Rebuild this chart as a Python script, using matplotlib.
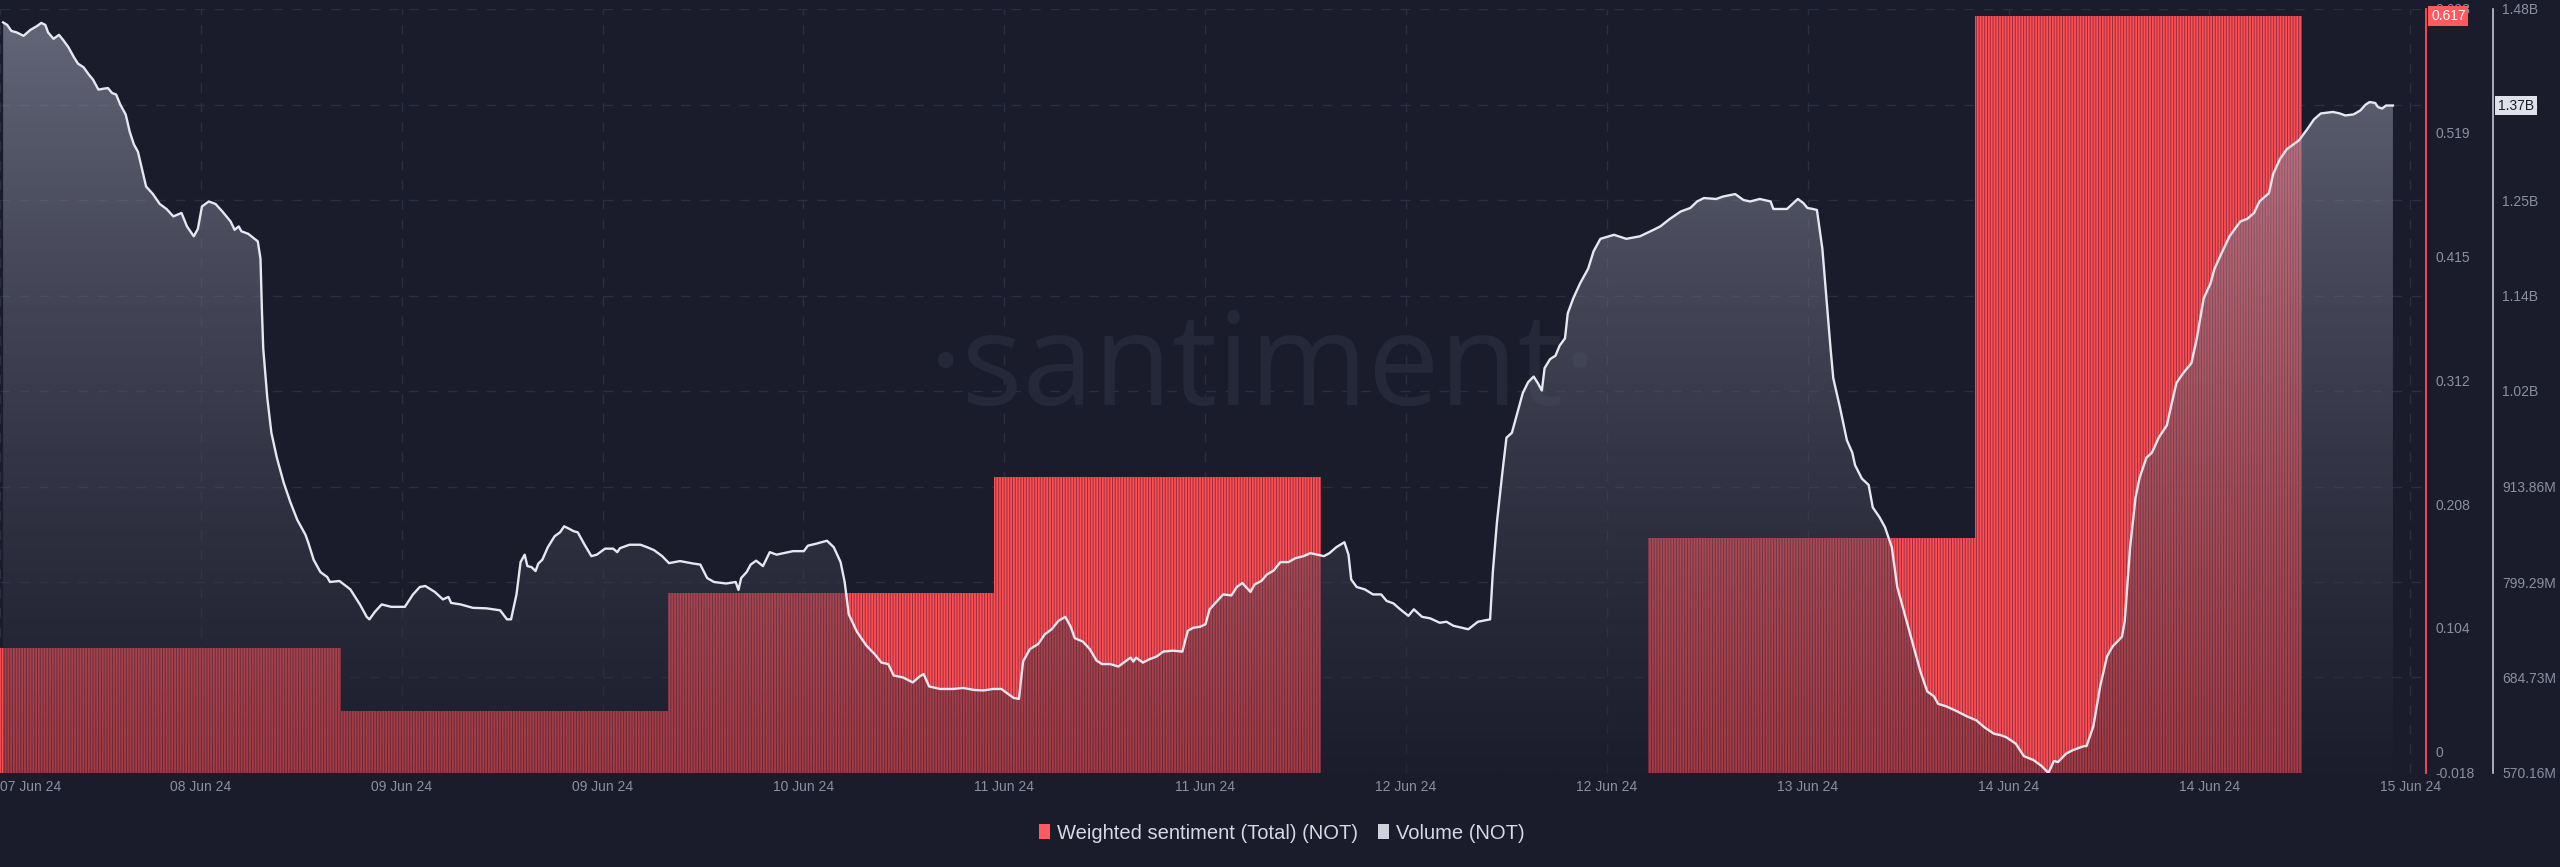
import numpy as np
import matplotlib
matplotlib.use("Agg")
import matplotlib.pyplot as plt
from matplotlib.patches import Patch

plt.rcParams["font.family"] = ["Liberation Sans", "DejaVu Sans"]
plt.rcParams["hatch.linewidth"] = 0.75

BG = "#1a1c2b"
RED = "#ff5055"
RED_DARK = "#9c2f3d"
GRID = "#2b2e40"
TICK = "#8c8fa0"
LINE = "#e6e7f0"

# hours since the start of the first daily bucket
day_start = [0, 24, 48, 72, 96, 120, 144]
sentiment = [0.087, 0.034, 0.133, 0.230, -0.018, 0.179, 0.617]

vol_hours = [
    -0.8, -0.5, -0.2, 0.2, 0.7, 1.2, 1.7, 2.0, 2.3, 2.5, 2.9, 3.3, 3.6, 4.0, 4.4, 4.7, 5.1, 5.5, 5.8, 6.2,
    6.6, 6.9, 7.2, 7.5, 7.8, 8.2, 8.5, 8.8, 9.1, 9.4, 9.7, 10.2, 10.7, 11.2, 11.7, 12.3, 12.7, 13.2, 13.5, 13.8,
    14.3, 14.8, 15.3, 15.9, 16.2, 16.5, 16.7, 17.2, 17.9, 18.1, 18.2, 18.3, 18.6, 18.9, 19.3, 19.8, 20.3, 20.8,
    21.4, 21.6, 22.0, 22.5, 23.0, 23.2, 23.9, 24.7, 25.4, 25.9, 26.1, 26.5, 27.0, 27.7, 28.7, 29.3, 29.8, 30.2,
    30.6, 30.9, 31.5, 31.9, 32.1, 32.8, 33.7, 34.7, 35.7,
    36.2, 36.5, 36.9, 37.2, 37.5, 37.7, 38.0, 38.3, 38.5, 38.8, 39.2, 39.7, 40.1, 40.4, 40.7, 41.1, 41.4, 41.9,
    42.4, 42.8, 43.4, 44.0, 44.3, 44.5, 45.2, 46.0, 46.5, 47.0, 47.6, 48.1, 48.9, 49.9, 50.4, 50.9, 51.4, 52.3,
    53.0, 53.2, 53.4, 53.8, 54.1, 54.5, 55.0, 55.5, 56.0, 56.5, 57.2, 58.0, 58.3, 58.9, 59.7, 60.2, 60.7, 61.0,
    61.3, 61.9, 62.6, 63.2, 63.7, 64.2, 64.6, 65.3, 66.0, 66.5, 66.8, 67.2, 68.0, 69.0, 69.7, 70.5,
    71.2, 71.9, 72.5, 73.0, 73.4, 73.8, 74.1, 74.6, 75.2, 75.7, 76.2, 76.7, 77.2, 77.6, 77.9, 78.5, 79.0, 79.5,
    79.9, 80.5, 81.1, 81.6, 82.0, 82.2, 82.4, 82.9, 83.4, 83.9, 84.4, 85.1, 85.8, 86.2, 86.6, 87.1, 87.5, 87.8,
    88.3, 88.8, 89.4, 89.8, 90.2, 90.8, 91.1, 91.6, 92.0, 92.5, 93.0, 93.6, 94.1, 94.7, 95.2, 96.2, 96.6, 97.1,
    97.7, 98.0, 98.2, 98.6, 99.2, 99.8, 100.4, 100.8, 101.3, 101.8, 102.4, 102.8, 103.4, 104.0, 104.7, 105.2, 105.7,
    106.8, 107.5, 108.4, 108.6, 108.9, 109.3, 109.6, 110.0, 110.4, 110.8, 111.2, 111.6, 111.9, 112.2, 112.4,
    112.8, 113.2, 113.5, 113.9, 114.1, 114.5, 115.0, 115.6, 116.0, 116.5, 117.5, 118.4, 119.4, 120.4, 120.9,
    121.6, 122.4, 123.1, 123.6, 124.1, 125.0, 125.5, 126.4, 127.0, 127.5, 128.2, 129.0, 129.2, 130.2, 130.6,
    131.0, 131.4, 131.7, 132.1, 132.4, 132.8, 133.1, 133.4, 133.6, 134.1, 134.6, 135.0, 135.2, 135.7, 136.2,
    136.5, 137.0, 137.4, 137.9, 138.3, 139.0, 139.5, 140.0, 140.5, 141.0,
    141.3, 141.9, 142.7, 143.4, 144.1, 144.7, 145.4, 145.9, 146.3, 147.0, 147.6, 148.3, 148.9, 149.4, 149.8,
    150.1, 150.7, 151.2, 152.0, 152.2, 152.7, 153.2, 153.7, 154.1, 154.8, 155.0, 155.4, 155.8, 156.1, 156.6,
    157.0, 157.5, 158.1, 158.3, 158.8, 159.3, 159.9, 160.3, 160.8, 161.3, 161.6, 162.1, 162.7, 163.5, 164.0,
    164.5, 164.9, 165.6, 165.9, 166.4, 166.9, 167.4, 167.8, 168.4, 168.9, 169.4, 170.3, 170.8, 171.2, 171.8,
    172.3, 172.7, 173.0, 173.4, 173.6, 173.9, 174.2, 174.7,
]
vol_millions = [
    1470.6, 1467.6, 1460.4, 1458.6, 1454.5, 1461.6, 1466.4, 1470.0, 1467.6, 1458.6, 1450.9, 1455.7, 1449.7,
    1440.7, 1428.8, 1421.1, 1416.9, 1407.9, 1402.0, 1390.0, 1391.2, 1391.8, 1385.9, 1384.1, 1372.1, 1360.2,
    1339.3, 1324.4, 1315.4, 1294.6, 1273.7, 1264.7, 1252.8, 1246.8, 1237.9, 1242.0, 1225.9, 1214.0, 1222.9,
    1249.8, 1255.8, 1252.8, 1243.8, 1231.9, 1221.8, 1225.9, 1220.0, 1217.0, 1208.0, 1187.2, 1127.5, 1079.7,
    1020.1, 978.3, 948.5, 918.6, 894.8, 873.9, 856.0, 847.0, 826.1, 811.2, 805.3, 799.3, 800.5, 790.4, 772.4,
    757.5, 754.5, 763.5, 772.4, 769.5, 769.5, 784.4, 793.3, 794.5, 790.4, 787.4, 778.4, 781.4, 774.2, 772.4,
    768.3, 767.7, 765.3,
    754.5, 754.5, 784.4, 823.2, 832.1, 818.4, 817.2, 812.4, 821.4, 826.1, 841.0, 854.2, 858.9, 866.1, 863.7,
    860.2, 858.9, 844.0, 830.3, 832.1, 839.3, 839.3, 835.1, 839.9, 844.0, 844.0, 841.0, 837.5, 830.3, 821.9,
    824.4, 821.4, 820.2, 804.1, 799.3, 797.5, 799.3, 789.8, 804.1, 811.2, 820.2, 824.9, 818.4, 835.1, 832.1,
    833.9, 836.3, 836.3, 842.9, 845.2, 848.8, 841.0, 823.2, 799.3, 760.5, 739.6, 722.9, 712.8, 702.6, 700.8,
    687.1, 684.7, 678.8, 685.9, 688.9, 674.0, 671.0, 671.0, 672.2, 669.8,
    669.2, 671.0, 671.0, 665.0, 660.3, 659.1, 703.8, 718.8, 724.7, 736.6, 742.6, 752.7, 757.5, 745.6, 731.9,
    727.7, 718.8, 705.0, 700.8, 700.8, 697.9, 703.8, 708.6, 703.8, 708.6, 702.6, 706.8, 709.8, 715.8, 716.9,
    715.8, 740.8, 744.4, 745.6, 748.6, 766.5, 775.4, 784.4, 783.2, 793.3, 798.1, 787.4, 796.3, 800.5, 808.2,
    813.0, 823.2, 823.2, 827.9, 830.3, 833.9, 830.3, 833.9, 841.0, 847.0, 832.1, 802.3, 793.3, 790.4, 784.4,
    784.4, 776.6, 773.6, 766.5, 758.7, 766.5, 757.5, 755.7, 750.4, 751.6, 746.8,
    742.6, 751.6, 754.5, 811.2, 870.9, 930.6, 972.4, 978.3, 1002.2, 1026.0, 1039.2, 1045.7, 1038.0, 1029.0,
    1055.9, 1066.6, 1070.8, 1082.7, 1091.7, 1121.5, 1139.4, 1157.3, 1175.2, 1196.1, 1211.0, 1215.8, 1211.0,
    1214.0, 1221.8, 1225.9, 1234.9, 1243.8, 1248.0, 1255.8, 1259.9, 1258.8, 1261.7, 1264.7, 1257.6, 1255.8,
    1258.8, 1255.8, 1246.8, 1246.8, 1252.8, 1258.8, 1254.0, 1248.0, 1246.8, 1245.6, 1199.1, 1139.4, 1079.7,
    1043.9, 1008.1, 969.4, 954.4, 939.5, 923.4, 915.7, 888.8, 876.9, 865.0, 841.0, 793.3, 751.6, 721.7, 691.9,
    668.0, 662.1,
    653.1, 650.1, 644.1, 638.2, 633.4, 625.0, 617.3, 615.5, 613.1, 605.4, 590.4, 585.7, 578.5, 570.2, 584.5,
    583.3, 593.4, 597.6, 602.4, 602.4, 626.2, 674.0, 709.8, 721.7, 733.6, 751.6, 841.0, 900.7, 924.6, 948.5,
    954.4, 972.4, 987.3, 1002.2, 1038.0, 1049.9, 1061.8, 1091.7, 1139.4, 1157.3, 1175.2, 1193.1, 1214.0,
    1231.9, 1234.9, 1242.0, 1255.8, 1265.9, 1288.6, 1306.5, 1318.4, 1324.4, 1329.2, 1342.3, 1354.2, 1361.4,
    1363.2, 1361.4, 1359.0, 1360.2, 1364.9, 1372.1, 1375.1, 1373.9, 1369.1, 1367.3, 1370.9, 1370.9,
]

x_labels = ["07 Jun 24", "08 Jun 24", "09 Jun 24", "09 Jun 24", "10 Jun 24", "11 Jun 24", "11 Jun 24",
            "12 Jun 24", "12 Jun 24", "13 Jun 24", "14 Jun 24", "14 Jun 24", "15 Jun 24"]
sent_ticks = [-0.018, 0, 0.1038, 0.2076, 0.3114, 0.4152, 0.519, 0.6228]
sent_labels = ["-0.018", "0", "0.104", "0.208", "0.312", "0.415", "0.519", "0.623"]
vol_ticks = [570.16, 684.73, 799.29, 913.86, 1028.43, 1142.99, 1257.56, 1372.13, 1486.70]
vol_labels = ["570.16M", "684.73M", "799.29M", "913.86M", "1.02B", "1.14B", "1.25B", "1.37B", "1.48B"]

xmin, xmax = -1.03, 177.13
smin, smax = sent_ticks[0], sent_ticks[-1]
vmin, vmax = vol_ticks[0], vol_ticks[-1]

fig = plt.figure(figsize=(25.6, 8.67), dpi=100, facecolor=BG)
ax = fig.add_axes([0.0, 0.10842, 0.94766, 0.8812])
ax.set_facecolor(BG)

# grid: vertical at date ticks, horizontal at volume ticks
xt = xmin + 14.75 * np.arange(len(x_labels))
ax.set_xticks(xt, x_labels)
ax.set_axisbelow(True)
ax.grid(axis="x", color=GRID, lw=1.0, ls=(0, (7, 7)))
ax.grid(axis="y", visible=False)
fracs = [(v - vmin) / (vmax - vmin) for v in vol_ticks[1:]]
ax.hlines(fracs, 0, 1, transform=ax.transAxes, color=GRID, lw=1.0, ls=(0, (7, 7)), zorder=0.5)

# watermark
ax.text(0.5207, 0.4817, "\u00b7santiment\u00b7", transform=ax.transAxes, family="Open Sans",
        fontsize=92, color="#252838", ha="center", va="baseline", zorder=0.8)

# sentiment bars (first bucket starts before the visible window)
starts = np.array(day_start, float)
lefts = starts.copy()
lefts[0] = min(lefts[0], xmin)
widths = starts + 24 - lefts
ax.bar(lefts, np.array(sentiment) - smin, width=widths, bottom=smin, align="edge",
       color=RED, edgecolor=RED_DARK, linewidth=0, hatch="||||||", zorder=2)
ax.set_ylim(smin, smax)
ax.set_yticks(sent_ticks, sent_labels)

# volume area (vertical gradient) + line
ax2 = ax.twinx()
poly = ax2.fill_between(vol_hours, vol_millions, vmin, facecolor="none", edgecolor="none")
top = np.array([152, 155, 175]) / 255
bot = np.array([30, 30, 46]) / 255
f = np.linspace(0, 1, 256)[:, None]
rgb = top * (1 - f) + bot * f
alpha = np.repeat(0.6 - 0.2 * f, 2, axis=1)
grad = np.dstack([np.repeat(rgb[:, None, i], 2, axis=1) for i in range(3)] + [alpha])
img = ax2.imshow(grad, extent=[xmin, xmax, vmin, vmax], aspect="auto", origin="upper",
                 interpolation="bilinear", zorder=2)
img.set_clip_path(poly.get_paths()[0], transform=ax2.transData)
ax2.plot(vol_hours, vol_millions, color=LINE, lw=1.7, zorder=4, solid_joinstyle="round")
ax2.set_ylim(vmin, vmax)
ax2.set_yticks(vol_ticks, vol_labels)

ax.set_xlim(xmin, xmax)
ax2.set_xlim(xmin, xmax)

# spines & ticks
for a in (ax, ax2):
    for s in ("top", "left", "bottom"):
        a.spines[s].set_visible(False)
ax.spines["right"].set_color(RED)
ax.spines["right"].set_linewidth(1.3)
ax2.spines["right"].set_position(("axes", 2493 / 2426))
ax2.spines["right"].set_color("#c3c5d0")
ax2.spines["right"].set_linewidth(1.2)

ax.tick_params(axis="x", length=0, pad=5, labelsize=10, labelcolor=TICK)
ax.tick_params(axis="y", left=False, right=True, labelleft=False, labelright=True,
               length=0, pad=6.5, labelsize=10, labelcolor=TICK)
ax2.tick_params(axis="y", length=0, pad=6.5, labelsize=10, labelcolor=TICK)
ax.get_xticklabels()[0].set_ha("left")

# last-value markers
ax.annotate("0.617", xy=(1, sentiment[-1]), xycoords=("axes fraction", "data"),
            xytext=(5, 0), textcoords="offset pixels", ha="left", va="center",
            color="white", fontsize=10, annotation_clip=False, zorder=10,
            bbox=dict(boxstyle="square,pad=0.2", fc="#ff5b5e", ec="none"))
ax2.annotate("1.37B", xy=(2493 / 2426, vol_millions[-1]), xycoords=("axes fraction", "data"),
             xytext=(5, 0), textcoords="offset pixels", ha="left", va="center",
             color=BG, fontsize=10, annotation_clip=False, zorder=10,
             bbox=dict(boxstyle="square,pad=0.2", fc="#dfe1ea", ec="none"))

handles = [Patch(facecolor="#ff5b5e"), Patch(facecolor="#cfd1dc")]
fig.legend(handles, ["Weighted sentiment (Total) (NOT)", "Volume (NOT)"], loc="center",
           bbox_to_anchor=(0.5008, 0.0392), ncol=2, frameon=False, fontsize=14.5,
           handlelength=0.55, handleheight=0.75, handletextpad=0.35, columnspacing=1.0,
           labelcolor="#d6d8e2")

fig.savefig("out.png", dpi=100, facecolor=BG)
